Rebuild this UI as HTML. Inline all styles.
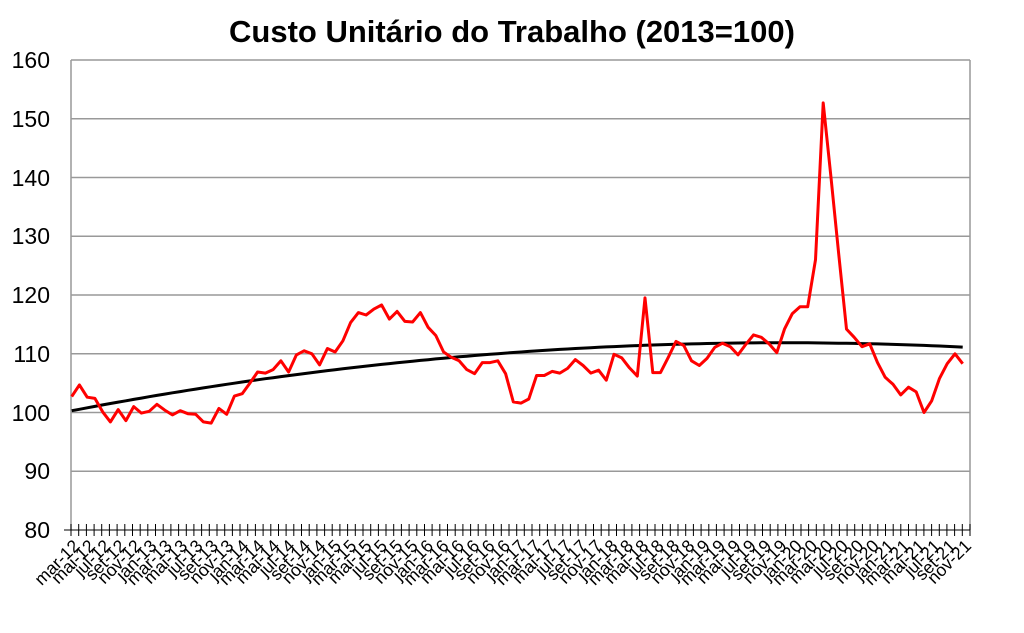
<!DOCTYPE html>
<html><head><meta charset="utf-8"><style>
body{margin:0;background:#fff;}
svg{display:block;font-family:"Liberation Sans",Arial,sans-serif;}
</style></head><body>
<svg width="1024" height="633" viewBox="0 0 1024 633" xmlns="http://www.w3.org/2000/svg">
<rect width="1024" height="633" fill="#fff"/>
<text x="512" y="42" text-anchor="middle" font-size="31" font-weight="bold">Custo Unitário do Trabalho (2013=100)</text>
<g stroke="#999" stroke-width="1.5">
<line x1="71" y1="60" x2="970" y2="60"/>
<line x1="71" y1="118.75" x2="970" y2="118.75"/>
<line x1="71" y1="177.5" x2="970" y2="177.5"/>
<line x1="71" y1="236.25" x2="970" y2="236.25"/>
<line x1="71" y1="295" x2="970" y2="295"/>
<line x1="71" y1="353.75" x2="970" y2="353.75"/>
<line x1="71" y1="412.5" x2="970" y2="412.5"/>
<line x1="71" y1="471.25" x2="970" y2="471.25"/>
<line x1="71" y1="60" x2="71" y2="530"/>
<line x1="970" y1="60" x2="970" y2="530"/>
</g>
<line x1="64" y1="530" x2="970" y2="530" stroke="#000" stroke-width="1"/>
<g font-size="23" text-anchor="end">
<text x="50" y="68">160</text><text x="50" y="127">150</text><text x="50" y="186">140</text>
<text x="50" y="244">130</text><text x="50" y="303">120</text><text x="50" y="362">110</text>
<text x="50" y="421">100</text><text x="50" y="479">90</text><text x="50" y="538">80</text>
</g>
<g id="ticks" stroke="#000" stroke-width="1"></g>
<g id="labels" font-size="17.5" text-anchor="end"></g>
<polyline id="trend" fill="none" stroke="#000" stroke-width="3"/>
<polyline id="red" fill="none" stroke="#f00" stroke-width="3" stroke-linejoin="round"/>
</svg>
<script>
var v=[102.7,104.7,102.6,102.4,100.1,98.4,100.5,98.6,101,99.9,100.2,101.4,100.4,99.6,100.3,99.8,99.7,98.4,98.2,100.7,99.7,102.8,103.2,105,106.9,106.7,107.3,108.8,106.9,109.8,110.5,110,108.1,110.9,110.3,112.2,115.3,117,116.6,117.6,118.3,115.9,117.2,115.5,115.4,117,114.5,113.1,110.3,109.4,108.8,107.3,106.6,108.5,108.5,108.8,
106.6,101.8,101.6,102.3,106.3,106.3,107,106.7,107.5,109,108,106.7,107.2,105.5,109.9,109.3,107.6,106.2,119.5,106.8,106.8,109.4,112.1,111.4,108.8,108,109.2,111.1,111.8,111.2,109.8,111.6,113.2,112.8,111.7,110.2,114.2,116.8,118,118,126,152.7,140,
127,114.2,112.8,111.2,111.7,108.5,106,104.8,103,104.3,103.5,100,102,105.8,108.3,110,108.3];
var n=v.length,x0=71.7,x1=962.7,dx=(x1-x0)/(n-1);
function Y(a){return 530-(a-80)*5.875;}
var p=[],t=[];
for(var j=0;j<n;j++){var x=x0+j*dx;p.push(x.toFixed(1)+","+Y(v[j]).toFixed(1));
var s=j/(n-1)*116;t.push(x.toFixed(1)+","+Y(100.3+0.25*s-0.00135*s*s).toFixed(1));}
document.getElementById("red").setAttribute("points",p.join(" "));
document.getElementById("trend").setAttribute("points",t.join(" "));
var g=document.getElementById("ticks"),h="";
for(var k=0;k<=117;k++){var xx=71+k*899/117;h+='<line x1="'+xx.toFixed(1)+'" y1="524" x2="'+xx.toFixed(1)+'" y2="536"/>';}
g.innerHTML=h;
</script>
<script>
var L=["mar-12","mai-12","jul-12","set-12","nov-12","jan-13","mar-13","mai-13","jul-13","set-13","nov-13","jan-14","mar-14","mai-14","jul-14","set-14","nov-14","jan-15","mar-15","mai-15","jul-15","set-15","nov-15","jan-16","mar-16","mai-16","jul-16","set-16","nov-16","jan-17","mar-17","mai-17","jul-17","set-17","nov-17","jan-18","mar-18","mai-18","jul-18","set-18","nov-18","jan-19","mar-19","mai-19","jul-19","set-19","nov-19","jan-20","mar-20","mai-20","jul-20","set-20","nov-20","jan-21","mar-21","mai-21","jul-21","set-21","nov-21"];
var lg=document.getElementById("labels"),hh="";
for(var i=0;i<L.length;i++){var c=71+(2*i+0.5)*899/117+6;hh+='<text transform="translate('+c.toFixed(1)+',547) rotate(-45)">'+L[i]+'</text>';}
lg.innerHTML=hh;
</script>
</body></html>
